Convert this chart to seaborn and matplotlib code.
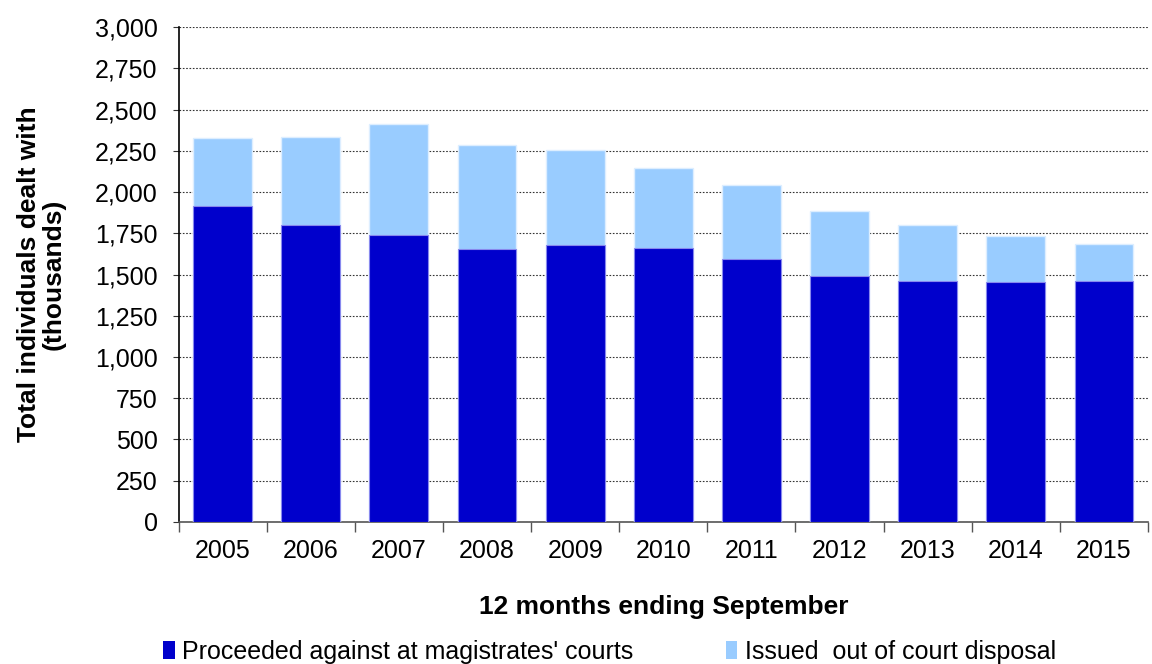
import matplotlib
matplotlib.use("Agg")
import matplotlib.pyplot as plt
import seaborn as sns
import numpy as np
import pandas as pd
from matplotlib.ticker import FuncFormatter, MultipleLocator, FixedLocator
from matplotlib.patches import Patch

years = ["2005", "2006", "2007", "2008", "2009", "2010", "2011", "2012", "2013", "2014", "2015"]
proceeded = [1916, 1803, 1740, 1656, 1680, 1664, 1595, 1492, 1458, 1452, 1464]
out_of_court = [415, 532, 674, 627, 575, 482, 448, 391, 341, 284, 222]

series_names = ["Proceeded against at magistrates' courts", "Issued  out of court disposal"]
dark = "#0000CC"
light = "#99CCFF"

sns.set_theme(style="white")
plt.rcParams['font.family'] = ['Liberation Sans', 'DejaVu Sans']
plt.rcParams['text.color'] = 'black'
plt.rcParams['axes.labelcolor'] = 'black'
plt.rcParams['xtick.color'] = 'black'
plt.rcParams['ytick.color'] = 'black'

df = pd.DataFrame({"year": years, "proceeded": proceeded, "ooc": out_of_court})
df["total"] = df["proceeded"] + df["ooc"]

fig = plt.figure(figsize=(11.52, 6.64), dpi=100)
ax = fig.add_axes([0.155, 0.214, 0.8415, 0.745])

sns.barplot(data=df, x="year", y="total", color=light, saturation=1, width=0.667,
            edgecolor="#DDEEFF", linewidth=1, ax=ax, zorder=3)
sns.barplot(data=df, x="year", y="proceeded", color=dark, saturation=1, width=0.667,
            edgecolor="#8888EE", linewidth=0.8, ax=ax, zorder=4)

ax.set_ylim(0, 3000)
ax.set_xlim(-0.5, len(years) - 0.5)
ax.yaxis.set_major_locator(MultipleLocator(250))
ax.yaxis.set_major_formatter(FuncFormatter(lambda v, p: f"{int(v):,}"))
ax.grid(axis="y", color="#333333", linestyle=(0, (1.5, 1.5)), linewidth=0.8, zorder=0)
ax.set_axisbelow(True)

for s in ["top", "right"]:
    ax.spines[s].set_visible(False)
ax.spines["left"].set_color("black")
ax.spines["left"].set_linewidth(1.2)
ax.spines["bottom"].set_color("#555555")
ax.spines["bottom"].set_linewidth(1.2)

ax.tick_params(axis="y", which="major", direction="out", length=4, width=0.8,
               color="#333333", labelsize=18, pad=11, left=True, labelcolor="black")
ax.tick_params(axis="x", which="major", length=0, labelsize=18, pad=12, labelcolor="black")
ax.xaxis.set_minor_locator(FixedLocator(np.arange(-0.5, len(years), 1.0)))
ax.tick_params(axis="x", which="minor", direction="out", length=7, width=1,
               color="#555555", bottom=True)

ax.set_xlabel("12 months ending September", fontsize=19, fontweight="bold", labelpad=23)
ax.set_ylabel("Total individuals dealt with\n(thousands)", fontsize=19, fontweight="bold",
              labelpad=21, linespacing=1.05)

handles = [Patch(facecolor=dark, edgecolor="none"), Patch(facecolor=light, edgecolor="none")]
fig.legend(handles, series_names, loc="center left", bbox_to_anchor=(0.131, 0.018), ncol=2,
           frameon=False, fontsize=18, handlelength=0.45, handleheight=0.75, borderpad=0,
           handletextpad=0.3, columnspacing=3.7)

fig.savefig("out.png", dpi=100)
